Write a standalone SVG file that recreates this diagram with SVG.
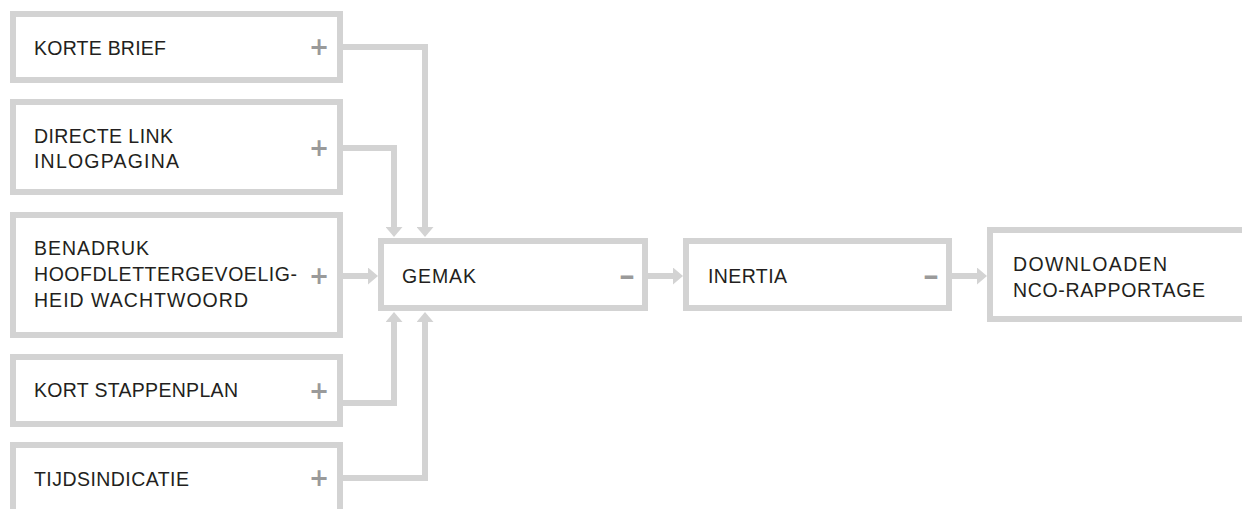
<svg xmlns="http://www.w3.org/2000/svg" width="1242" height="509" viewBox="0 0 1242 509">
<style>
.box{fill:#ffffff;stroke:#d3d3d3;stroke-width:6}
.lbl{font-family:"Liberation Sans",Arial,sans-serif;font-size:19.5px;fill:#231f20}
.sign{font-family:"DejaVu Sans",sans-serif;font-weight:bold;font-size:24px;fill:#9a9a9a;text-anchor:middle}
.con{fill:none;stroke:#d3d3d3;stroke-width:6;stroke-linejoin:miter;marker-end:url(#ah)}
</style>
<defs>
<marker id="ah" viewBox="0 0 10 17" refX="0" refY="8.5" markerWidth="10" markerHeight="17" markerUnits="userSpaceOnUse" orient="auto">
<path d="M0,0 L10,8.5 L0,17 Z" fill="#d3d3d3"/>
</marker>
</defs>
<rect width="1242" height="509" fill="#ffffff"/>
<g id="connectors">
<path class="con" d="M343,47 H425 V227"/>
<path class="con" d="M343,148 H394 V227"/>
<path class="con" d="M343,276 H368"/>
<path class="con" d="M343,403 H394 V322"/>
<path class="con" d="M343,478 H425 V322"/>
<path class="con" d="M648,276 H673"/>
<path class="con" d="M952,276 H977"/>
</g>
<g id="n-korte-brief">
<rect class="box" x="13" y="14" width="327" height="66"/>
<text class="lbl" x="34" y="55" textLength="132" lengthAdjust="spacing">KORTE BRIEF</text>
<text class="sign" x="319" y="55">+</text>
</g>
<g id="n-directe-link">
<rect class="box" x="13" y="102" width="327" height="90"/>
<text class="lbl" x="34" y="143" textLength="139" lengthAdjust="spacing">DIRECTE LINK</text>
<text class="lbl" x="34" y="168" textLength="145" lengthAdjust="spacing">INLOGPAGINA</text>
<text class="sign" x="319" y="156">+</text>
</g>
<g id="n-benadruk">
<rect class="box" x="13" y="215" width="327" height="120"/>
<text class="lbl" x="34" y="255" textLength="115" lengthAdjust="spacing">BENADRUK</text>
<text class="lbl" x="34" y="281" textLength="263" lengthAdjust="spacing">HOOFDLETTERGEVOELIG-</text>
<text class="lbl" x="34" y="307" textLength="214" lengthAdjust="spacing">HEID WACHTWOORD</text>
<text class="sign" x="319" y="284">+</text>
</g>
<g id="n-kort-stappenplan">
<rect class="box" x="13" y="357" width="327" height="67"/>
<text class="lbl" x="34" y="397" textLength="204" lengthAdjust="spacing">KORT STAPPENPLAN</text>
<text class="sign" x="319" y="399">+</text>
</g>
<g id="n-tijdsindicatie">
<rect class="box" x="13" y="445" width="327" height="70"/>
<text class="lbl" x="34" y="486" textLength="155" lengthAdjust="spacing">TIJDSINDICATIE</text>
<text class="sign" x="319" y="486">+</text>
</g>
<g id="n-gemak">
<rect class="box" x="381" y="241" width="264" height="67"/>
<text class="lbl" x="402" y="283" textLength="74" lengthAdjust="spacing">GEMAK</text>
<text class="sign" transform="translate(627,284) scale(1.7,1)">-</text>
</g>
<g id="n-inertia">
<rect class="box" x="686" y="241" width="263" height="67"/>
<text class="lbl" x="708" y="283" textLength="79" lengthAdjust="spacing">INERTIA</text>
<text class="sign" transform="translate(931,284) scale(1.7,1)">-</text>
</g>
<g id="n-downloaden">
<rect class="box" x="990" y="230" width="260" height="89"/>
<text class="lbl" x="1013" y="271" textLength="154" lengthAdjust="spacing">DOWNLOADEN</text>
<text class="lbl" x="1013" y="297" textLength="192" lengthAdjust="spacing">NCO-RAPPORTAGE</text>
</g>
</svg>
